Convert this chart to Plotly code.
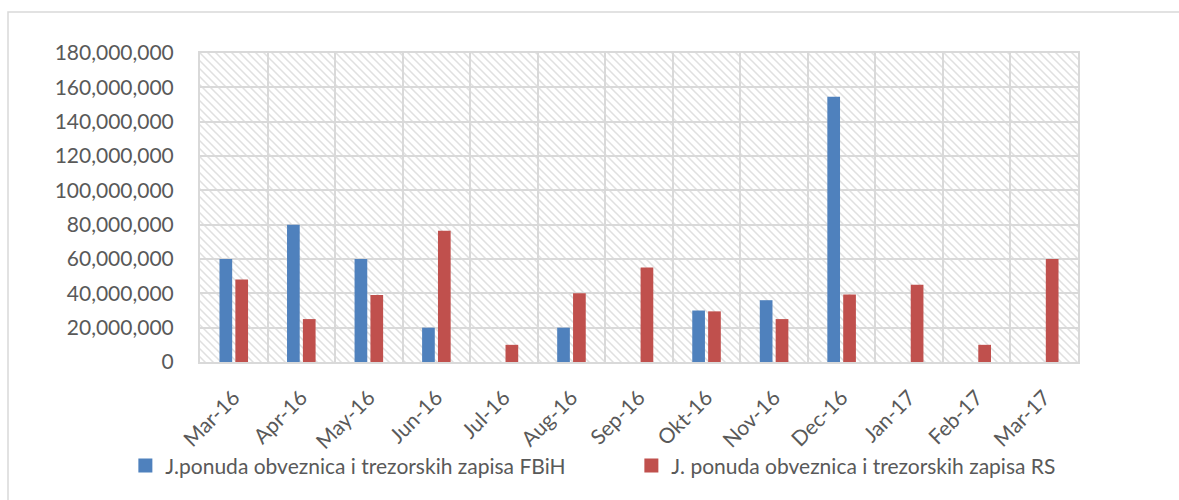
import base64
import plotly.graph_objects as go

categories = ["Mar-16", "Apr-16", "May-16", "Jun-16", "Jul-16", "Aug-16", "Sep-16",
              "Okt-16", "Nov-16", "Dec-16", "Jan-17", "Feb-17", "Mar-17"]
fbih_values = [60000000, 80000000, 60000000, 20000000, None, 20000000, None,
               30000000, 36000000, 154500000, None, None, None]
rs_values = [48000000, 25000000, 39000000, 76500000, 10000000, 40000000, 55000000,
             29500000, 25000000, 39300000, 45000000, 10000000, 60000000]
series_names = ["J.ponuda obveznica i trezorskih zapisa FBiH",
                "J. ponuda obveznica i trezorskih zapisa RS"]
series_colors = ["#4F81BD", "#C0504D"]
y_ticks = [0, 20000000, 40000000, 60000000, 80000000, 100000000,
           120000000, 140000000, 160000000, 180000000]

FONT = "Lato"
TXT = "#595959"
GRID = "#d9d9d9"

W, H = 1179, 500
L, R, T, B = 200, 101, 53, 138
PW, PH = W - L - R, H - T - B

svg = (
    f'<svg xmlns="http://www.w3.org/2000/svg" width="{PW}" height="{PH}" '
    f'viewBox="0 0 {PW} {PH}" preserveAspectRatio="none">'
    '<defs><pattern id="h" width="8" height="8" patternUnits="userSpaceOnUse">'
    '<rect width="8" height="8" fill="white"/>'
    '<path d="M-2,-2 L10,10 M-2,6 L2,10 M6,-2 L10,2" stroke="#e0e0e0" stroke-width="1.5"/>'
    '</pattern></defs>'
    f'<rect width="{PW}" height="{PH}" fill="url(#h)"/></svg>'
)
src = "data:image/svg+xml;base64," + base64.b64encode(svg.encode()).decode()

fig = go.Figure()
for vals, name, col in zip([fbih_values, rs_values], series_names, series_colors):
    fig.add_trace(go.Bar(x=categories, y=vals, name=name, showlegend=False,
                         marker=dict(color=col, line=dict(width=0))))
for name, col in zip(series_names, series_colors):
    fig.add_trace(go.Scatter(x=[None], y=[None], mode="markers", name=name,
                             marker=dict(symbol="square", size=14, color=col),
                             showlegend=True, hoverinfo="skip"))

fig.update_layout(
    width=W, height=H,
    margin=dict(l=L, r=R, t=T, b=B, autoexpand=False),
    paper_bgcolor="white",
    plot_bgcolor="rgba(0,0,0,0)",
    barmode="group",
    bargap=0.53,
    bargroupgap=0.2,
    font=dict(family=FONT, size=21, color=TXT),
    showlegend=True,
    legend=dict(orientation="h", x=-0.085, xanchor="left", y=-0.336, yanchor="middle",
                entrywidth=461, entrywidthmode="pixels",
                font=dict(family=FONT, size=21, color=TXT),
                bgcolor="rgba(0,0,0,0)", itemwidth=30,
                traceorder="normal"),
    images=[dict(source=src, xref="x domain", yref="y domain", x=0, y=1,
                 sizex=1, sizey=1, xanchor="left", yanchor="top",
                 sizing="stretch", layer="below")],
    shapes=[dict(type="rect", xref="paper", yref="paper",
                 x0=(8 - L) / PW, x1=(W + 10 - L) / PW,
                 y0=(H - B - H - 10) / PH, y1=1 + (T - 12) / PH,
                 line=dict(color="#d9d9d9", width=1.5), fillcolor="rgba(0,0,0,0)",
                 layer="below")],
)

fig.update_xaxes(
    type="category", categoryorder="array", categoryarray=categories,
    tickson="boundaries", showgrid=True, gridcolor=GRID, gridwidth=2,
    showline=True, linecolor=GRID, linewidth=2, mirror=True,
    tickangle=-45, ticks="", ticklabelstandoff=13,
    tickfont=dict(family=FONT, size=21, color=TXT),
    range=[-0.5, len(categories) - 0.5],
)
fig.update_yaxes(
    range=[0, 180000000], tickvals=y_ticks, tickformat=",d",
    showgrid=True, gridcolor=GRID, gridwidth=2, zeroline=False,
    showline=True, linecolor=GRID, linewidth=2, mirror=True,
    ticks="", ticklabelstandoff=20, tickfont=dict(family=FONT, size=21, color=TXT),
)

fig.write_html("out.html", config={"displayModeBar": False},
               post_script="document.body.style.margin='0';")
